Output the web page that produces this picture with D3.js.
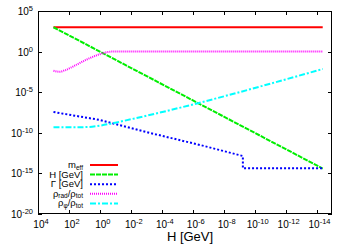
<!DOCTYPE html>
<html>
<head>
<meta charset="utf-8">
<script src="https://cdn.jsdelivr.net/npm/d3@7"></script>
<style>
  body { margin: 0; background: #fff; }
  svg { display: block; font-family: "Liberation Sans", Arial, sans-serif; }
</style>
</head>
<body>
<svg width="350" height="245"></svg>
<script>
const svg_ = d3.select('svg');

// exponents (log10)
const m_eff_logH = [3, -14.4];
const m_eff_log  = [3, 3];

const H_logH = [3, -14.4];
const H_log  = [3, -14.4];

const gamma_logH = [3, 0, -3.24, -6.47, -9.24, -9.24, -14.4];
const gamma_log  = [-7.44, -8.42, -10.02, -11.5, -12.86, -14.37, -14.37];

const rad_logH = [3, 2.62, 2.26, 1.55, 0.69, -0.18, -0.5, -0.8, -14.4];
const rad_log  = [-2.35, -2.48, -2.3, -1.65, -0.83, -0.21, -0.05, 0, 0];

const phi_logH = [3, 2, 1, 0.5, 0, -0.5, -1, -14.4];
const phi_log  = [-9.32, -9.32, -9.3, -9.25, -9.12, -8.95, -8.75, -2.14];

const x_ticks = [4, 2, 0, -2, -4, -6, -8, -10, -12, -14];
const y_ticks = [5, 0, -5, -10, -15, -20];

const series = [
  {label: ["m", "eff", ""], xs: m_eff_logH, ys: m_eff_log, color: "#ff0000", dash: null, curve: d3.curveLinear},
  {label: ["H [GeV]"], xs: H_logH, ys: H_log, color: "#00ee00", dash: "5,1", curve: d3.curveLinear},
  {label: ["\u0393 [GeV]"], xs: gamma_logH, ys: gamma_log, color: "#0000ff", dash: "2,2", curve: d3.curveLinear},
  {label: ["\u03c1", "rad", "/\u03c1", "tot"], xs: rad_logH, ys: rad_log, color: "#ff00ff", dash: "1,1", curve: d3.curveMonotoneX},
  {label: ["\u03c1", "\u03c6", "/\u03c1", "tot"], xs: phi_logH, ys: phi_log, color: "#00ffff", dash: "6,2,2,2", curve: d3.curveMonotoneX}
];

const DIMS = { LEFT: 38, RIGHT: 332, TOP: 11, BOTTOM: 214 };

const x = d3.scaleLog().domain([1e4, 1e-15]).range([DIMS.LEFT, DIMS.RIGHT]);
const y = d3.scaleLog().domain([1e5, 1e-20]).range([DIMS.TOP, DIMS.BOTTOM]);

// ticks (inside, mirrored)
const TICK = 4;
const gTicks = svg_.append("g").attr("stroke", "#000").attr("stroke-width", 1);
x_ticks.forEach(e => {
  const px = Math.round(x(10 ** e)) + 0.5;
  gTicks.append("line").attr("x1", px).attr("x2", px).attr("y1", DIMS.BOTTOM).attr("y2", DIMS.BOTTOM - TICK);
  gTicks.append("line").attr("x1", px).attr("x2", px).attr("y1", DIMS.TOP).attr("y2", DIMS.TOP + TICK);
});
y_ticks.forEach(e => {
  const py = Math.round(y(10 ** e)) + 0.5;
  gTicks.append("line").attr("x1", DIMS.LEFT).attr("x2", DIMS.LEFT + TICK).attr("y1", py).attr("y2", py);
  gTicks.append("line").attr("x1", DIMS.RIGHT).attr("x2", DIMS.RIGHT - TICK).attr("y1", py).attr("y2", py);
});

// tick labels
function pow10(sel, e) {
  sel.append("tspan").text("10");
  sel.append("tspan").attr("dy", -4).attr("font-size", 7.5).text(e);
}
x_ticks.forEach(e => {
  const t = svg_.append("text")
    .attr("x", x(10 ** e) + 3)
    .attr("y", 228)
    .attr("text-anchor", "middle")
    .attr("font-size", 10)
    .attr("fill", "#000");
  pow10(t, e);
});
y_ticks.forEach(e => {
  const t = svg_.append("text")
    .attr("x", 33)
    .attr("y", y(10 ** e) + 4)
    .attr("text-anchor", "end")
    .attr("font-size", 10)
    .attr("fill", "#000");
  pow10(t, e);
});

// axis label
svg_.append("text")
  .attr("x", 190)
  .attr("y", 241)
  .attr("text-anchor", "middle")
  .attr("font-size", 13)
  .text("H [GeV]");

// curves
const line = d3.line()
  .x((d) => x(10 ** d[0]))
  .y((d) => y(10 ** d[1]));

svg_.append("defs").append("clipPath").attr("id", "clip")
  .append("rect")
  .attr("x", DIMS.LEFT).attr("y", DIMS.TOP)
  .attr("width", DIMS.RIGHT - DIMS.LEFT).attr("height", DIMS.BOTTOM - DIMS.TOP);

const gLines = svg_.append("g").attr("clip-path", "url(#clip)").attr("fill", "none");
series.forEach(s => {
  const pts = s.xs.map((v, i) => [v, s.ys[i]]);
  gLines.append("path")
    .attr("d", line.curve(s.curve)(pts))
    .attr("stroke", s.color)
    .attr("stroke-width", 2)
    .attr("stroke-dasharray", s.dash);
});

// legend
const LEG = { X_TEXT: 83, X0: 90, X1: 118, Y0: 165, STEP: 9.6 };
series.forEach((s, i) => {
  const yy = LEG.Y0 + i * LEG.STEP;
  const t = svg_.append("text")
    .attr("x", LEG.X_TEXT)
    .attr("y", yy + 3)
    .attr("text-anchor", "end")
    .attr("font-size", 9.5);
  s.label.forEach((part, j) => {
    if (j % 2 === 0) {
      t.append("tspan").attr("dy", j === 0 ? 0 : -1.5).text(part);
    } else {
      t.append("tspan").attr("dy", 1.5).attr("font-size", 6.5).text(part);
    }
  });
  svg_.append("line")
    .attr("x1", LEG.X0).attr("x2", LEG.X1)
    .attr("y1", yy).attr("y2", yy)
    .attr("stroke", s.color)
    .attr("stroke-width", 2)
    .attr("stroke-dasharray", s.dash);
});

// frame
svg_.append("rect")
  .attr("x", DIMS.LEFT + 0.5).attr("y", DIMS.TOP + 0.5)
  .attr("width", DIMS.RIGHT - DIMS.LEFT - 1).attr("height", DIMS.BOTTOM - DIMS.TOP - 1)
  .attr("fill", "none")
  .attr("stroke", "#000");
</script>
</body>
</html>
